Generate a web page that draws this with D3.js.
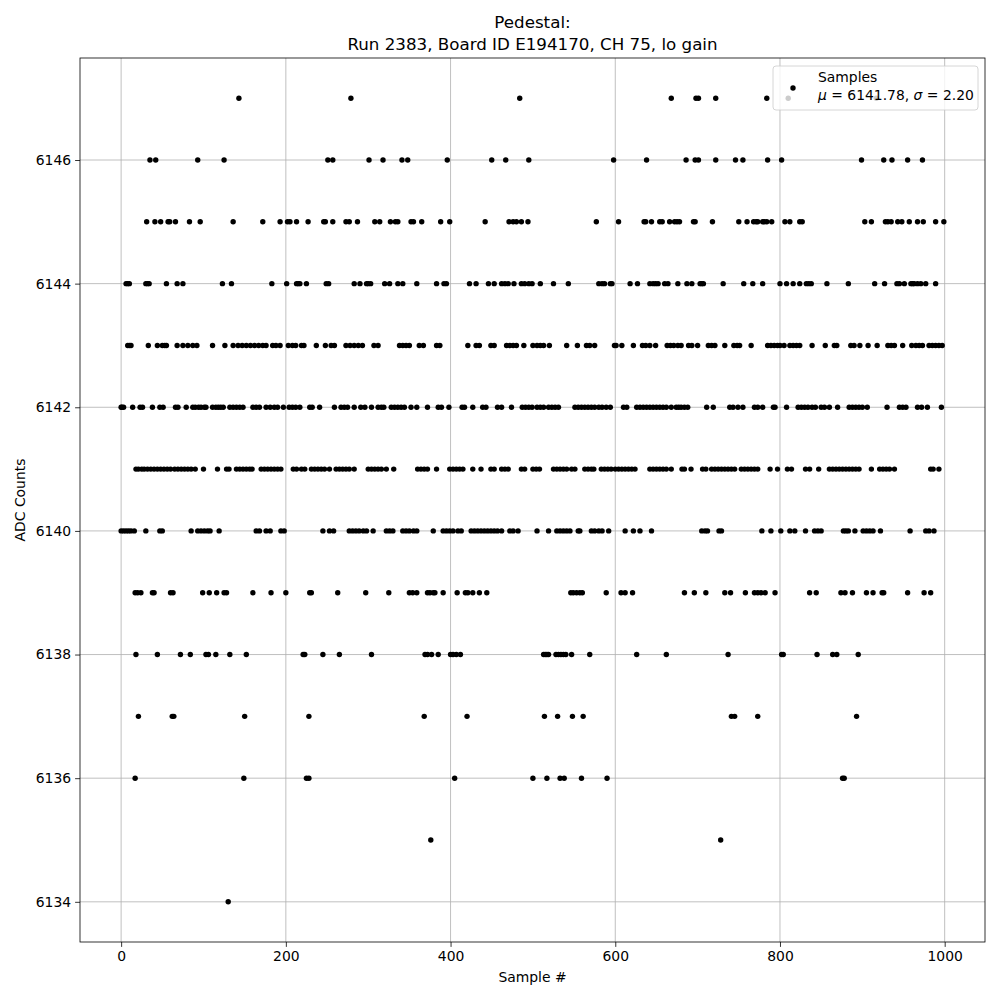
<!DOCTYPE html>
<html><head><meta charset="utf-8">
<script src="https://cdn.jsdelivr.net/npm/d3@7"></script>
<style>body{margin:0;background:#fff}svg{display:block;font-family:"DejaVu Sans",sans-serif}</style>
</head><body><svg id="c" width="1000" height="1000"></svg>
<script>
// Sample indices at each ADC level
const level6147 = [143,279,484,668,698,701,722,784,810,917];
const level6146 = [35,42,93,125,251,257,301,318,341,348,396,450,467,495,598,638,686,697,701,722,746,755,785,802,899,926,936,955,973];
const level6145 = [31,41,48,57,59,66,83,96,136,172,193,202,205,213,227,246,248,257,273,277,287,308,314,327,333,336,352,355,365,388,399,442,471,476,480,486,494,577,604,635,637,644,654,657,666,672,675,678,695,697,718,750,760,768,771,773,779,781,784,790,806,812,824,827,903,911,928,931,935,943,948,957,967,974,989,999];
const level6144 = [6,8,10,30,32,34,55,68,75,123,134,183,201,213,215,217,225,249,252,283,290,298,300,303,320,326,336,342,359,383,392,395,423,431,446,453,462,466,470,477,486,490,495,499,509,525,543,580,584,587,594,596,618,627,642,646,649,652,660,664,676,687,693,703,705,707,731,756,767,779,800,808,816,824,832,835,838,857,883,915,927,942,945,951,959,961,963,967,971,977,989];
const level6143 = [8,10,12,33,44,50,53,55,68,75,81,87,92,111,126,136,142,147,152,157,162,167,172,176,184,188,193,203,208,212,219,222,237,248,255,259,273,278,283,288,293,307,312,338,342,346,350,362,367,383,387,421,431,435,449,453,468,472,476,480,489,500,505,509,513,520,541,554,565,569,575,599,601,608,622,633,637,642,649,663,667,671,676,680,689,693,700,713,717,721,733,744,748,751,765,785,789,793,797,800,805,812,816,820,824,839,855,866,869,886,890,897,907,918,931,935,939,949,960,965,969,973,981,985,989,993,997];
const level6142 = [0,1,3,14,23,26,38,47,51,66,69,79,87,90,94,97,101,103,111,115,118,121,124,132,136,140,144,148,160,164,168,176,181,186,190,197,204,208,212,217,229,232,241,259,267,271,275,283,291,296,304,312,316,319,328,332,336,340,344,352,359,372,385,389,398,414,417,427,439,443,457,462,474,487,491,495,499,505,509,513,519,523,527,531,551,555,559,563,567,571,575,580,584,589,594,610,614,626,630,634,638,642,646,650,654,658,662,668,674,677,680,684,688,711,719,739,743,749,755,769,773,779,792,794,808,822,826,830,834,839,843,850,854,860,870,884,888,892,896,900,906,930,945,949,953,967,972,979,996];
const level6141 = [18,21,25,28,32,36,40,44,48,52,56,60,65,69,73,77,81,85,90,100,117,128,131,140,144,148,152,156,159,170,174,178,182,186,190,194,209,213,219,223,231,235,239,243,247,253,261,265,269,273,277,283,300,304,308,312,316,322,331,360,364,368,372,383,399,403,407,411,415,427,437,449,453,462,466,470,486,490,500,504,508,525,529,533,537,541,547,551,563,567,571,574,583,587,591,595,600,604,608,612,616,620,624,642,646,650,654,658,662,668,681,684,692,706,710,717,721,725,729,733,737,741,745,753,757,761,765,769,773,788,797,809,814,831,836,847,860,864,868,872,876,880,884,888,892,896,911,921,925,929,933,939,983,986,993];
const level6140 = [0,3,6,9,12,16,30,47,50,85,93,97,101,105,108,119,164,168,176,181,194,198,245,253,258,277,281,285,289,294,298,306,322,326,330,342,346,350,355,359,379,391,395,399,403,409,413,425,429,433,437,441,445,449,453,457,462,472,476,482,505,519,529,533,537,541,545,555,557,571,575,580,584,592,612,622,630,644,705,709,712,726,729,778,789,801,812,818,831,842,846,850,877,880,883,891,901,905,909,913,922,958,977,981,987];
const level6139 = [17,20,24,38,40,60,63,99,107,116,125,128,160,182,200,229,231,263,297,325,350,354,359,372,375,379,381,391,408,418,421,427,435,444,546,549,553,557,560,589,607,612,621,684,696,710,733,740,758,769,773,777,782,794,836,844,874,879,888,905,913,924,926,955,975,983];
const level6138 = [18,44,72,84,103,106,115,132,152,221,223,245,265,304,369,372,377,385,400,403,407,412,513,515,517,519,528,531,534,537,540,547,569,626,662,737,802,804,845,864,869,895];
const level6137 = [21,62,64,150,228,368,420,514,530,548,561,741,745,773,893];
const level6136 = [17,149,225,228,405,500,517,533,538,559,590,876,878];
const level6135 = [376,728];
const level6134 = [130];

const levels = [
  [6147, level6147],[6146, level6146],[6145, level6145],[6144, level6144],
  [6143, level6143],[6142, level6142],[6141, level6141],[6140, level6140],
  [6139, level6139],[6138, level6138],[6137, level6137],[6136, level6136],
  [6135, level6135],[6134, level6134]
];
const points = [];
levels.forEach(([v, xs]) => xs.forEach(s => points.push({s, v})));

const xTicks = [0,200,400,600,800,1000];
const yTicks = [6134,6136,6138,6140,6142,6144,6146];
const titleLines = ["Pedestal:", "Run 2383, Board ID E194170, CH 75, lo gain"];

const L = 80, R = 985, T = 58, B = 942;
const x = d3.scaleLinear().domain([-49.95, 1048.95]).range([L, R]);
const y = d3.scaleLinear().domain([6133.35, 6147.65]).range([B, T]);

const svg = d3.select("#c");
svg.append("rect").attr("width",1000).attr("height",1000).attr("fill","#fff");

// grid
const g = svg.append("g");
g.selectAll(".gx").data(xTicks).enter().append("line")
  .attr("x1", d=>x(d)).attr("x2", d=>x(d)).attr("y1", T).attr("y2", B)
  .attr("stroke","#b0b0b0").attr("stroke-width",0.8);
g.selectAll(".gy").data(yTicks).enter().append("line")
  .attr("y1", d=>y(d)).attr("y2", d=>y(d)).attr("x1", L).attr("x2", R)
  .attr("stroke","#b0b0b0").attr("stroke-width",0.8);

// points
svg.append("g").selectAll("circle").data(points).enter().append("circle")
  .attr("cx", d=>x(d.s)).attr("cy", d=>y(d.v)).attr("r", 2.7).attr("fill","#000");

// axes
const xAxis = d3.axisBottom(x).tickValues(xTicks).tickFormat(d3.format("d")).tickSize(4.9).tickPadding(4);
const yAxis = d3.axisLeft(y).tickValues(yTicks).tickFormat(d3.format("d")).tickSize(4.9).tickPadding(4);
const gx = svg.append("g").attr("transform",`translate(0,${B})`).call(xAxis);
const gy = svg.append("g").attr("transform",`translate(${L},0)`).call(yAxis);
[gx, gy].forEach(a => {
  a.select(".domain").remove();
  a.selectAll("text").attr("font-size","13.9px").attr("fill","#000").attr("font-family","DejaVu Sans");
  a.selectAll("line").attr("stroke","#000").attr("stroke-width",0.8);
});
svg.append("rect").attr("x",L).attr("y",T).attr("width",R-L).attr("height",B-T)
  .attr("fill","none").attr("stroke","#000").attr("stroke-width",0.8);

// labels
svg.append("text").attr("x",(L+R)/2).attr("y",982).attr("text-anchor","middle")
  .attr("font-size","13.9px").text("Sample #");
svg.append("text").attr("transform",`translate(25,${(T+B)/2}) rotate(-90)`).attr("text-anchor","middle")
  .attr("font-size","13.9px").text("ADC Counts");
titleLines.forEach((t,i) => svg.append("text").attr("x",(L+R)/2).attr("y",28+i*22)
  .attr("text-anchor","middle").attr("font-size","16.7px").text(t));

// legend
const lg = svg.append("g");
lg.append("rect").attr("x",773).attr("y",66).attr("width",205).attr("height",44).attr("rx",3)
  .attr("fill","#fff").attr("fill-opacity",0.8).attr("stroke","#cccccc").attr("stroke-width",0.8);
lg.append("circle").attr("cx",793).attr("cy",88).attr("r",2.7).attr("fill","#000");
lg.append("text").attr("x",818).attr("y",82).attr("font-size","13.9px").text("Samples");
const t2 = lg.append("text").attr("x",818).attr("y",100).attr("font-size","13.9px");
t2.append("tspan").attr("font-style","italic").text("μ");
t2.append("tspan").text(" = 6141.78, ");
t2.append("tspan").attr("font-style","italic").text("σ");
t2.append("tspan").text(" = 2.20");
</script></body></html>
